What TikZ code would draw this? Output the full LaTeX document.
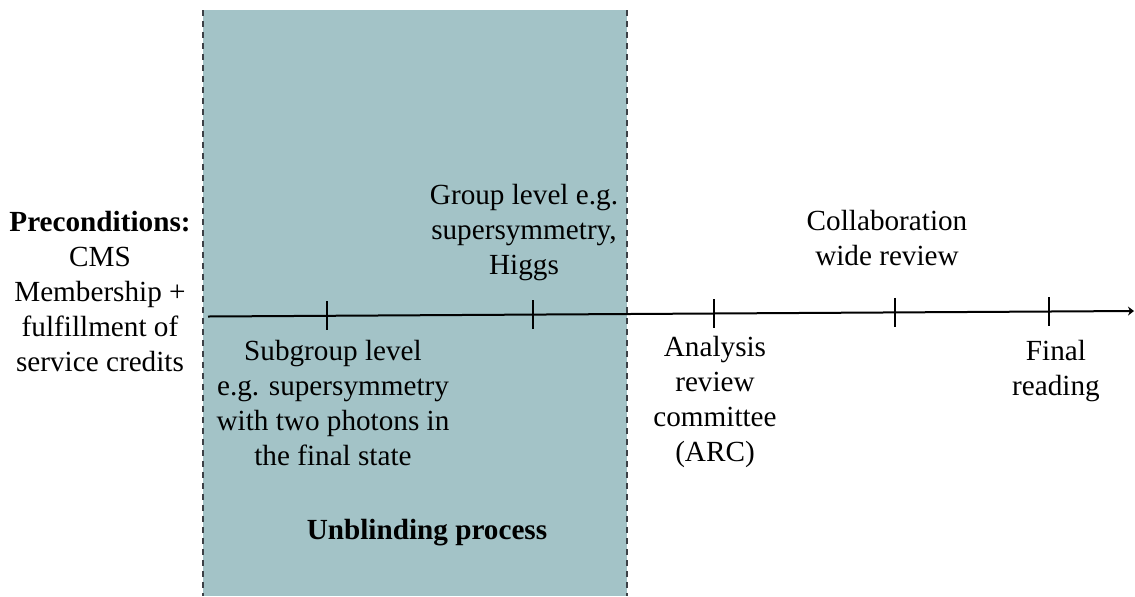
\documentclass[tikz,border=0pt]{standalone}
\usepackage{fontspec}
\setmainfont{Liberation Serif}
\usetikzlibrary{calc,arrows.meta}

\definecolor{phasefill}{RGB}{163,195,199}
\definecolor{phaseedge}{RGB}{60,64,70}

\tikzset{
  lbl/.style={align=center,inner sep=0pt,font=\fontsize{14.6}{17.5}\selectfont},
  boldlbl/.style={lbl,font=\fontsize{14.6}{17.5}\selectfont\bfseries},
  axis/.style={line width=1pt,-{Stealth[length=3pt,width=4.5pt]}},
  tick/.style={line width=1pt},
  phaseborder/.style={phaseedge,line width=0.9pt,dash pattern=on 3pt off 2.5pt}
}

\begin{document}
\begin{tikzpicture}[x=0.5pt,y=-0.5pt]
  \useasboundingbox (0,0) rectangle (1135,596);

  % shaded unblinding phase
  \fill[phasefill] (203,10) rectangle (627,596);
  \draw[phaseborder] (203,10) -- (203,596);
  \draw[phaseborder] (627,10) -- (627,596);

  % timeline
  \coordinate (tlstart) at (208,316.5);
  \coordinate (tlend) at (1134,311);
  \draw[axis] (tlstart) -- (tlend);

  % ticks along the timeline
  \foreach \name/\xx in {ta/327,tb/533,tc/714,td/895,te/1049}{
    \coordinate (\name) at ($(tlstart)!{(\xx-208)/926}!(tlend)$);
    \draw[tick] ($(\name)+(0,-14.5)$) -- ($(\name)+(0,14.5)$);
  }

  % labels
  \node[lbl] (pre) at (100,292) {\textbf{Preconditions:}\\CMS\\Membership +\\fulfillment of\\service credits};
  \node[lbl] (group) at (524,233) {Group level e.g.\\supersymmetry,\\Higgs};
  \node[lbl] (collab) at (887,238.5) {Collaboration\\wide review};
  \node[lbl] (sub) at (333,403.5) {Subgroup level\\e.g. supersymmetry\\with two photons in\\the final state};
  \node[lbl] (arc) at (715,402) {Analysis\\review\\committee\\(ARC)};
  \node[lbl] (final) at (1056,371.5) {Final\\reading};
  \node[boldlbl] (unblind) at (427,533) {Unblinding process};
\end{tikzpicture}
\end{document}
